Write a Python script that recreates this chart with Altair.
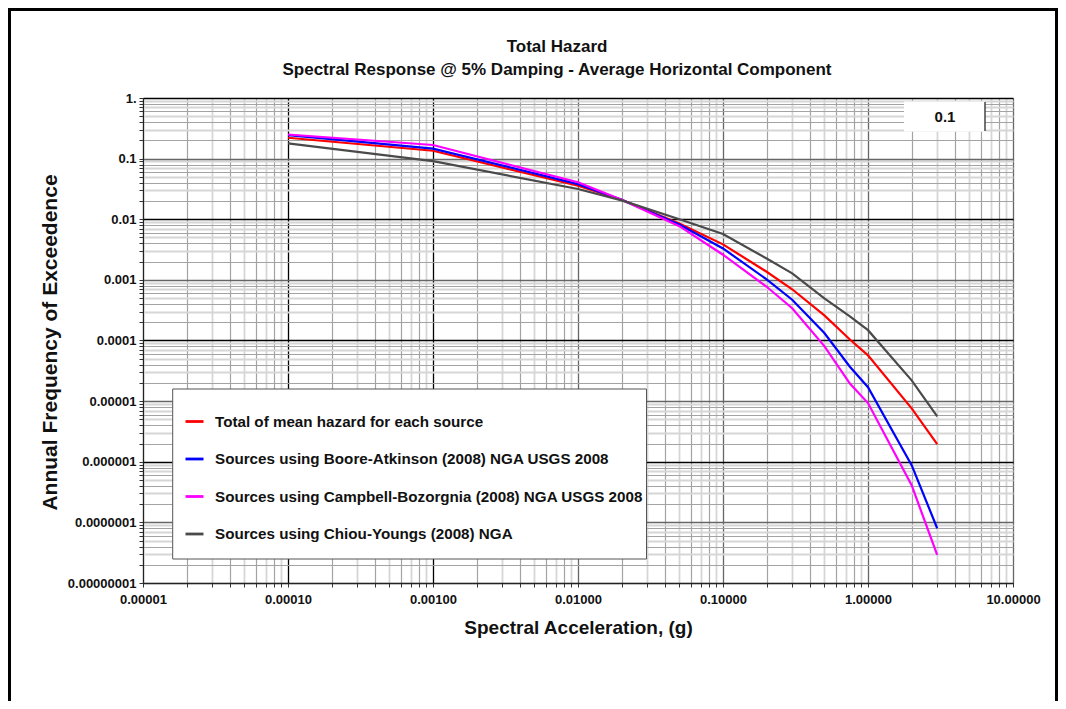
import json
import altair as alt
import pandas as pd

# ---------------- data ----------------
sa = [0.0001, 0.001, 0.01, 0.02, 0.05, 0.1, 0.2, 0.3, 0.5, 0.75, 1.0, 2.0, 3.0]
total_mean = [0.221, 0.135, 0.0357, 0.021, 0.0085, 0.00385, 0.00136, 0.00070,
              0.00026, 0.000104, 5.7e-5, 7.6e-6, 1.95e-6]
boore_atkinson = [0.245, 0.146, 0.038, 0.021, 0.0082, 0.0033, 0.00102, 0.00047,
                  0.000133, 3.7e-5, 1.7e-5, 8.8e-7, 8.0e-8]
campbell_bozorgnia = [0.25, 0.168, 0.0407, 0.021, 0.0077, 0.0026, 0.00077, 0.00034,
                      8.1e-5, 1.95e-5, 9.3e-6, 4.1e-7, 2.9e-8]
chiou_youngs = [0.178, 0.091, 0.0316, 0.0205, 0.0100, 0.0057, 0.00225, 0.00128,
                0.000495, 0.00025, 0.000148, 2.2e-5, 5.6e-6]

series_names = [
    "Total of mean hazard for each source",
    "Sources using Boore-Atkinson (2008) NGA USGS 2008",
    "Sources using Campbell-Bozorgnia (2008) NGA USGS 2008",
    "Sources using Chiou-Youngs (2008) NGA",
]
series_values = [total_mean, boore_atkinson, campbell_bozorgnia, chiou_youngs]
series_colors = ["#ff0000", "#0000ff", "#ff00ff", "#4a4a4a"]

x_labels = ["0.00001", "0.00010", "0.00100", "0.01000", "0.10000", "1.00000", "10.00000"]
y_labels = ["0.00000001", "0.0000001", "0.000001", "0.00001", "0.0001", "0.001",
            "0.01", "0.1", "1."]
period_label = "0.1"

title_lines = ["Total Hazard",
               "Spectral Response @ 5% Damping - Average Horizontal Component"]
x_title = "Spectral Acceleration, (g)"
y_title = "Annual Frequency of Exceedence"

# ---------------- build tables ----------------
rows = []
for name, vals in zip(series_names, series_values):
    for xv, yv in zip(sa, vals):
        rows.append({"sa": xv, "afe": yv, "series": name})
df = pd.DataFrame(rows)

x_ticks = [m * 10.0 ** e for e in range(-5, 1) for m in range(1, 10)] + [10.0]
y_ticks = [m * 10.0 ** e for e in range(-8, 0) for m in range(1, 10)] + [1.0]

FONT = "Liberation Sans, Arial, sans-serif"
LOG = "(log(datum.value)/LN10)"
EXP = f"round({LOG})"
MAJOR = f"abs({LOG} - {EXP}) < 0.001"
MANT = f"round(datum.value / pow(10, floor({LOG} + 0.000001)))"


def grid_color(dark_test):
    return {
        "condition": [
            {"test": f"({MAJOR}) && ({dark_test})", "value": "#000000"},
            {"test": f"{MAJOR}", "value": "#666666"},
            {"test": f"{MANT} % 2 == 0", "value": "#a3a3a3"},
        ],
        "value": "#d6d6d6",
    }


grid_width = {
    "condition": [
        {"test": f"{MAJOR}", "value": 1.3},
        {"test": f"{MANT} % 2 == 0", "value": 1.2},
    ],
    "value": 1.8,
}

x_label_expr = f"{MAJOR} ? {json.dumps(x_labels)}[{EXP} + 5] : ''"
y_label_expr = f"{MAJOR} ? {json.dumps(y_labels)}[{EXP} + 8] : ''"

x_axis = alt.Axis(
    values=x_ticks, labelExpr=x_label_expr, labelOverlap=False, labelFlush=False,
    grid=True, gridColor=grid_color(f"{EXP} <= -3"), gridWidth=grid_width,
    ticks=True, tickSize=4, tickColor="#333333", domainColor="#222222",
    labelFont=FONT, labelFontSize=13, labelFontWeight="bold", labelColor="#111111",
    labelPadding=6,
    title=x_title, titleFont=FONT, titleFontSize=19, titleFontWeight="bold",
    titleColor="#111111", titleX=435, titleY=44, titleAlign="center",
    titleBaseline="middle",
)
y_axis = alt.Axis(
    values=y_ticks, labelExpr=y_label_expr, labelOverlap=False, labelFlush=False,
    grid=True, gridColor=grid_color(f"{EXP} % 2 == 0"), gridWidth=grid_width,
    ticks=True, tickSize=4, tickColor="#333333", domainColor="#222222",
    labelFont=FONT, labelFontSize=13, labelFontWeight="bold", labelColor="#111111",
    labelPadding=3,
    title=y_title, titleFont=FONT, titleFontSize=21, titleFontWeight="bold",
    titleColor="#111111", titleX=-93, titleY=244, titleAngle=270,
    titleAlign="center", titleBaseline="middle",
)

lines = alt.Chart(df).mark_line(strokeWidth=2.2).encode(
    x=alt.X("sa:Q", scale=alt.Scale(type="log", domain=[1e-5, 10], nice=False), axis=x_axis),
    y=alt.Y("afe:Q", scale=alt.Scale(type="log", domain=[1e-8, 1], nice=False), axis=y_axis),
    color=alt.Color(
        "series:N",
        scale=alt.Scale(domain=series_names, range=series_colors),
        legend=alt.Legend(
            orient="none", legendX=41, legendY=313, title=None, padding=0,
            symbolType="stroke", symbolSize=324, symbolStrokeWidth=2.8,
            labelFont=FONT, labelFontSize=15.2, labelFontWeight="bold",
            labelColor="#111111", labelOffset=10, labelLimit=700, rowPadding=18.5,
        ),
    ),
    order=alt.Order("sa:Q"),
)

one = pd.DataFrame({"k": [0]})

# chart title (two lines) as text marks above the plot
title_df = pd.DataFrame({"t": title_lines, "row": [0, 1]})
title_main = alt.Chart(title_df.iloc[[0]]).mark_text(
    font=FONT, fontSize=17, fontWeight="bold", color="#111111",
    align="center", baseline="middle",
).encode(text="t:N", x=alt.value(414), y=alt.value(-51))
title_sub = alt.Chart(title_df.iloc[[1]]).mark_text(
    font=FONT, fontSize=17, fontWeight="bold", color="#111111",
    align="center", baseline="middle",
).encode(text="t:N", x=alt.value(414), y=alt.value(-28))

# legend box
legend_box = alt.Chart(one).mark_rect(fill="white", stroke="#555555", strokeWidth=1).encode(
    x=alt.value(29.7), x2=alt.value(503.5), y=alt.value(291), y2=alt.value(461)
)

# period box in the upper right
period_box = alt.Chart(one).mark_rect(fill="white").encode(
    x=alt.value(761), x2=alt.value(842), y=alt.value(3.5), y2=alt.value(33.5)
)
period_rule = alt.Chart(one).mark_rule(color="#444444", strokeWidth=1.5).encode(
    x=alt.value(842), y=alt.value(4), y2=alt.value(33)
)
period_text = alt.Chart(pd.DataFrame({"t": [period_label]})).mark_text(
    font=FONT, fontSize=15, fontWeight="bold", color="#111111",
    align="center", baseline="middle",
).encode(text="t:N", x=alt.value(802), y=alt.value(19))

# outer frame of the figure
frame_left = alt.Chart(one).mark_rule(color="black", strokeWidth=3).encode(
    x=alt.value(-133.5), y=alt.value(-90), y2=alt.value(605)
)
frame_top = alt.Chart(one).mark_rule(color="black", strokeWidth=3).encode(
    x=alt.value(-135), x2=alt.value(915), y=alt.value(-88.5)
)
frame_right = alt.Chart(one).mark_rule(color="black", strokeWidth=3).encode(
    x=alt.value(913.5), y=alt.value(-90), y2=alt.value(605)
)

chart = alt.layer(
    lines, legend_box, period_box, period_rule, period_text,
    title_main, title_sub, frame_left, frame_top, frame_right,
).properties(
    width=870,
    height=485,
    autosize=alt.AutoSizeParams(type="none"),
    padding={"left": 135, "top": 90, "right": 45, "bottom": 118},
).configure_view(
    stroke="#111111", strokeWidth=1
).configure(background="white")

chart.save("out.html", embed_options={"renderer": "svg", "actions": False})
